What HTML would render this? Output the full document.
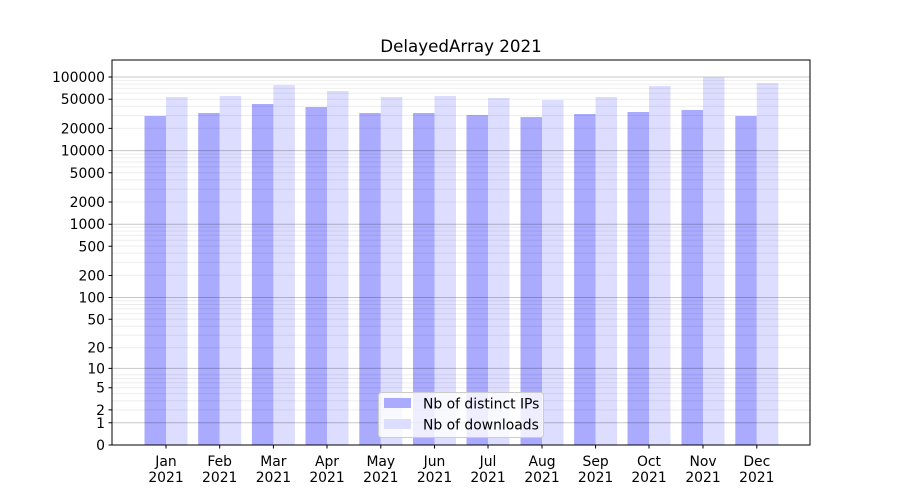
<!DOCTYPE html>
<html><head><meta charset="utf-8"><style>
html,body{margin:0;padding:0;background:#fff;}
svg{display:block;font-family:"DejaVu Sans","Liberation Sans",sans-serif;}
</style></head><body>
<svg width="900" height="500" viewBox="0 0 900 500" xmlns="http://www.w3.org/2000/svg">
<rect width="900" height="500" fill="#fff"/>
<g fill="#aaaaff">
<rect x="144.5" y="116" width="21.5" height="329"/>
<rect x="198.2" y="113" width="21.5" height="332"/>
<rect x="251.9" y="104" width="21.5" height="341"/>
<rect x="305.5" y="107" width="21.5" height="338"/>
<rect x="359.3" y="113" width="21.5" height="332"/>
<rect x="413" y="113" width="21.5" height="332"/>
<rect x="466.5" y="115" width="21.5" height="330"/>
<rect x="520.5" y="117" width="21.5" height="328"/>
<rect x="574.1" y="114" width="21.5" height="331"/>
<rect x="627.5" y="112" width="21.5" height="333"/>
<rect x="681.5" y="110" width="21.5" height="335"/>
<rect x="735.3" y="116" width="21.5" height="329"/>
</g>
<g fill="#ddddff">
<rect x="166" y="97" width="21.5" height="348"/>
<rect x="219.7" y="96" width="21.5" height="349"/>
<rect x="273.4" y="85" width="21.5" height="360"/>
<rect x="327" y="91" width="21.5" height="354"/>
<rect x="380.8" y="97" width="21.5" height="348"/>
<rect x="434.5" y="96" width="21.5" height="349"/>
<rect x="488" y="98" width="21.5" height="347"/>
<rect x="542" y="100" width="21.5" height="345"/>
<rect x="595.6" y="97" width="21.5" height="348"/>
<rect x="649" y="86" width="21.5" height="359"/>
<rect x="703" y="77.3" width="21.5" height="367.7"/>
<rect x="756.8" y="83" width="21.5" height="362"/>
</g>
<g stroke="#000" stroke-opacity="0.07" stroke-width="1">
<path d="M112 409.9H810M112 400.7H810M112 393.6H810M112 387.7H810M112 382.8H810M112 378.5H810M112 374.8H810
M112 347.7H810M112 335.2H810M112 326.3H810M112 319.3H810M112 313.6H810M112 308.7H810M112 304.5H810M112 300.8H810
M112 275.3H810M112 262.4H810M112 253.2H810M112 246.1H810M112 240.2H810M112 235.3H810M112 231H810M112 227.3H810
M112 202H810M112 189.1H810M112 179.9H810M112 172.8H810M112 166.9H810M112 162H810M112 157.7H810M112 154H810
M112 128.4H810M112 115.5H810M112 106.3H810M112 99.2H810M112 93.3H810M112 88.4H810M112 84.1H810M112 80.4H810"/>
</g>
<g stroke="#000" stroke-opacity="0.22" stroke-width="1">
<path d="M112 422.8H810M112 368.4H810M112 297.5H810M112 224.2H810M112 150.6H810M112 77H810"/>
</g>
<rect x="112" y="60" width="698" height="385" fill="none" stroke="#000" stroke-width="1"/>
<g stroke="#000" stroke-width="1">
<path d="M108.5 445H112M108.5 422.8H112M108.5 409.9H112M108.5 387.7H112M108.5 368.4H112M108.5 347.7H112M108.5 319.3H112M108.5 297.5H112M108.5 275.5H112M108.5 246.3H112M108.5 224.2H112M108.5 202H112M108.5 172.8H112M108.5 150.6H112M108.5 128.4H112M108.5 99.2H112M108.5 77H112"/>
<path d="M166 445v3.5M219.7 445v3.5M273.4 445v3.5M327 445v3.5M380.8 445v3.5M434.5 445v3.5M488 445v3.5M542 445v3.5M595.6 445v3.5M649 445v3.5M703 445v3.5M756.8 445v3.5"/>
</g>
<g font-size="13.9" fill="#000" text-anchor="end">
<text x="105" y="450">0</text>
<text x="105" y="427.8">1</text>
<text x="105" y="414.9">2</text>
<text x="105" y="392.7">5</text>
<text x="105" y="373.4">10</text>
<text x="105" y="352.7">20</text>
<text x="105" y="324.3">50</text>
<text x="105" y="302.5">100</text>
<text x="105" y="280.5">200</text>
<text x="105" y="251.3">500</text>
<text x="105" y="229.2">1000</text>
<text x="105" y="207">2000</text>
<text x="105" y="177.8">5000</text>
<text x="105" y="155.6">10000</text>
<text x="105" y="133.4">20000</text>
<text x="105" y="104.2">50000</text>
<text x="105" y="82">100000</text>
</g>
<g font-size="13.9" fill="#000" text-anchor="middle">
<text x="166" y="466">Jan</text><text x="166" y="482">2021</text>
<text x="219.7" y="466">Feb</text><text x="219.7" y="482">2021</text>
<text x="273.4" y="466">Mar</text><text x="273.4" y="482">2021</text>
<text x="327" y="466">Apr</text><text x="327" y="482">2021</text>
<text x="380.8" y="466">May</text><text x="380.8" y="482">2021</text>
<text x="434.5" y="466">Jun</text><text x="434.5" y="482">2021</text>
<text x="488" y="466">Jul</text><text x="488" y="482">2021</text>
<text x="542" y="466">Aug</text><text x="542" y="482">2021</text>
<text x="595.6" y="466">Sep</text><text x="595.6" y="482">2021</text>
<text x="649" y="466">Oct</text><text x="649" y="482">2021</text>
<text x="703" y="466">Nov</text><text x="703" y="482">2021</text>
<text x="756.8" y="466">Dec</text><text x="756.8" y="482">2021</text>
</g>
<text x="461" y="52" font-size="16.7" text-anchor="middle" fill="#000">DelayedArray 2021</text>
<rect x="378.5" y="392.5" width="165" height="45" rx="3" fill="#fff" fill-opacity="0.8" stroke="#ccc"/>
<rect x="384" y="398" width="27" height="10" fill="#aaaaff"/>
<rect x="384" y="419" width="27" height="10" fill="#ddddff"/>
<text x="423" y="408.5" font-size="13.9" fill="#000">Nb of distinct IPs</text>
<text x="423" y="429.5" font-size="13.9" fill="#000">Nb of downloads</text>
</svg>
</body></html>
